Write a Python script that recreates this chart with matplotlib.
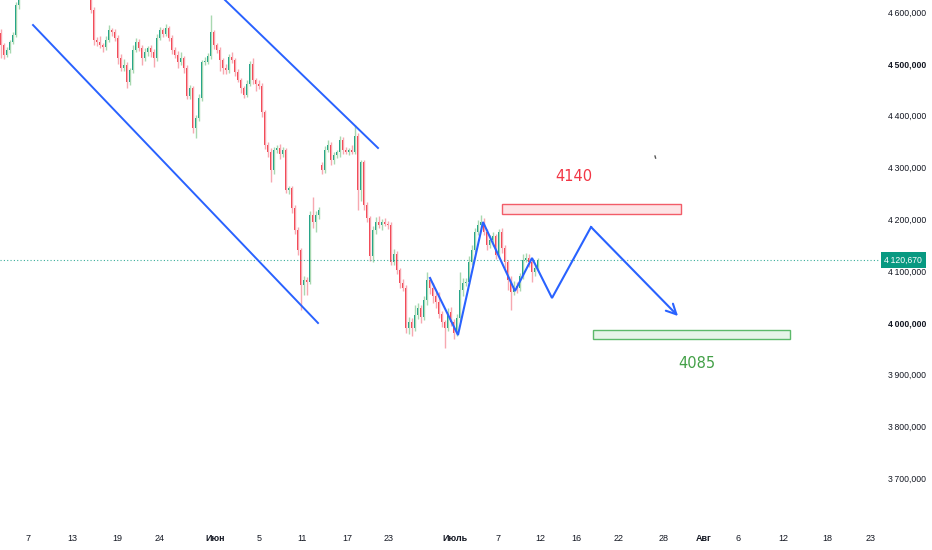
import numpy as np
import matplotlib
matplotlib.use('Agg')
import matplotlib.pyplot as plt
import matplotlib.transforms as mtransforms
from matplotlib.patches import Rectangle

# price in thousands, one bar per step
closes = [4536, 4517, 4527, 4542, 4556, 4614, 4640,
          4650, 4665, 4680, 4670, 4690, 4700, 4710, 4695, 4705, 4720, 4715, 4700,
          4690, 4705, 4695, 4680, 4690, 4675, 4665, 4680, 4670, 4655, 4645,
          4604, 4546, 4542, 4536, 4532, 4546, 4565, 4561, 4550, 4511,
          4492, 4498, 4465, 4488, 4527, 4542, 4531, 4511, 4523, 4531,
          4523, 4511, 4550, 4565, 4558, 4569, 4550, 4527, 4517, 4503,
          4511, 4492, 4438, 4453, 4376, 4395, 4434, 4503, 4503, 4515,
          4561, 4536, 4527, 4507, 4492, 4488, 4513, 4507, 4484, 4469,
          4453, 4440, 4461, 4500, 4469, 4461, 4457, 4407, 4343, 4330,
          4295, 4334, 4338, 4326, 4334, 4256, 4260, 4222, 4179, 4141,
          4073, 4083, 4079, 4208, 4195, 4208, 4218, 4295, 4334, 4343,
          4314, 4324, 4330, 4353, 4334, 4330, 4334, 4330, 4361, 4256,
          4310, 4227, 4202, 4129, 4179, 4195, 4189, 4195, 4191, 4189,
          4117, 4133, 4102, 4077, 4067, 3990, 4001, 3990, 4015, 4028,
          4011, 4044, 4083, 4067, 4052, 4040, 4017, 4001, 3990, 4021,
          4001, 3980, 4009, 4063, 4077, 4079, 4117, 4141, 4175, 4189,
          4195, 4175, 4150, 4160, 4168, 4131, 4175, 4144, 4117, 4083,
          4059, 4071, 4067, 4090, 4121, 4125, 4117, 4098, 4106, 4120.67]

upper_wick = [8, 5, 6, 4, 5, 6, 10,
              10, 10, 10, 10, 10, 10, 10, 10, 10, 10, 10, 10,
              10, 10, 10, 10, 10, 10, 10, 10, 10, 10, 10,
              8, 5, 6, 12, 4, 8, 10, 4, 6, 5,
              8, 12, 6, 4, 10, 8, 5, 6, 8, 4,
              6, 5, 8, 6, 5, 8, 4, 6, 5, 8,
              12, 4, 5, 6, 4, 6, 8, 5, 10, 6,
              33, 5, 4, 6, 5, 8, 6, 10, 5, 6,
              4, 5, 8, 6, 12, 4, 8, 5, 4, 6,
              8, 6, 5, 8, 6, 4, 5, 4, 6, 5,
              4, 8, 6, 8, 35, 8, 6, 5, 8, 10,
              6, 5, 4, 8, 5, 6, 4, 10, 21, 6,
              5, 4, 6, 5, 8, 10, 12, 6, 8, 6,
              5, 10, 6, 4, 8, 6, 10, 8, 20, 10,
              6, 8, 15, 6, 10, 8, 20, 6, 5, 8,
              10, 6, 8, 35, 10, 8, 12, 10, 8, 10,
              13, 8, 6, 10, 8, 4, 6, 8, 6, 5,
              8, 10, 8, 6, 12, 10, 8, 6, 5, 4]

lower_wick = [25, 8, 4, 6, 4, 5, 8,
              8, 8, 8, 8, 8, 8, 8, 8, 8, 8, 8, 8,
              8, 8, 8, 8, 8, 8, 8, 8, 8, 8, 8,
              6, 10, 8, 5, 10, 6, 4, 8, 5, 12,
              6, 5, 12, 6, 5, 4, 6, 14, 5, 8,
              10, 18, 5, 4, 6, 4, 6, 8, 6, 12,
              5, 10, 6, 5, 10, 20, 6, 6, 5, 4,
              6, 8, 6, 20, 12, 8, 5, 6, 8, 4,
              10, 6, 5, 4, 8, 14, 6, 10, 8, 10,
              23, 8, 6, 10, 5, 6, 8, 10, 8, 10,
              48, 20, 25, 5, 12, 20, 8, 8, 6, 5,
              10, 8, 6, 10, 8, 4, 6, 5, 5, 38,
              20, 10, 8, 10, 12, 8, 6, 10, 5, 8,
              6, 5, 8, 10, 6, 10, 12, 15, 6, 8,
              12, 6, 10, 12, 14, 12, 8, 10, 39, 6,
              8, 12, 6, 5, 12, 6, 5, 6, 4, 6,
              8, 6, 10, 6, 12, 8, 5, 10, 12, 20,
              34, 6, 10, 5, 6, 4, 10, 20, 8, 6]

first_open = 4560
gap_open = {107: 4305}

last_price = 4120.67

price_ticks = [3700, 3800, 3900, 4000, 4100, 4200, 4300, 4400, 4500, 4600]
bold_prices = [4000, 4500]
date_labels = ['7', '13', '19', '24', 'Июн', '5', '11', '17', '23', 'Июль',
               '7', '12', '16', '22', '28', 'Авг', '6', '12', '18', '23']
date_bars = [9, 23.7, 38.7, 52.7, 71.3, 86, 100.3, 115.3, 129.3, 151.3,
             165.7, 179.7, 191.7, 205.7, 220.7, 234.3, 245.7, 260.7, 275.3, 289.7]
month_labels = ['Июн', 'Июль', 'Авг']

# drawings (bar index, price)
channel_low = ([10.67, 105.67], [4574.9, 3999.6])
channel_high = ([73.0, 125.67], [4632.5, 4337.5])
zigzag_x = [143, 152.33, 160.67, 171.33, 177, 183.67, 196.67, 225.67]
zigzag_y = [4086.5, 3976.4, 4194.6, 4061.4, 4125.1, 4047.9, 4184.9, 4013.1]
red_zone = (167, 226.67, 4210.0, 4229.3)
green_zone = (197.33, 263, 3968.7, 3986.1)

GREEN = '#089981'
RED = '#F23645'
GREEN_W = '#A8D8B0'
RED_W = '#F7A8B0'
BLUE = '#2962FF'
AXFONT = ['Liberation Sans Narrow', 'Liberation Sans', 'DejaVu Sans']

c = np.array(closes, dtype=float)
o = np.r_[first_open, c[:-1]]
for k, v in gap_open.items():
    o[k] = v
hi = np.maximum(o, c) + np.array(upper_wick)
lo = np.minimum(o, c) - np.array(lower_wick)
x = np.arange(len(c))
up = c >= o

fig = plt.figure(figsize=(9.32, 5.5), dpi=100)
ax = fig.add_axes([0, 30 / 550, 880 / 932, 520 / 550])

ax.vlines(x[up], lo[up], hi[up], color=GREEN_W, lw=1)
ax.vlines(x[~up], lo[~up], hi[~up], color=RED_W, lw=1)
body_h = np.maximum(np.abs(c - o), 2.5)
body_b = np.minimum(o, c)
ax.bar(x[up], body_h[up], bottom=body_b[up], width=0.9, color=GREEN, linewidth=0)
ax.bar(x[~up], body_h[~up], bottom=body_b[~up], width=0.9, color=RED, linewidth=0)

ax.axhline(last_price, color=GREEN, lw=0.8, ls=(0, (1, 2)), alpha=0.8)

ax.plot(*channel_low, color=BLUE, lw=1.4)
ax.plot(*channel_high, color=BLUE, lw=1.4)
ax.plot(zigzag_x[:-1], zigzag_y[:-1], color=BLUE, lw=1.5, solid_joinstyle='miter')
ax.annotate('', xy=(zigzag_x[-1], zigzag_y[-1]), xytext=(zigzag_x[-2], zigzag_y[-2]),
            arrowprops=dict(arrowstyle='->', color=BLUE, lw=1.5, mutation_scale=18,
                            shrinkA=0, shrinkB=0))

x0, x1, y0, y1 = red_zone
ax.add_patch(Rectangle((x0, y0), x1 - x0, y1 - y0, facecolor='#FDE4E6',
                       edgecolor='#F25C68', lw=1))
x0, x1, y0, y1 = green_zone
ax.add_patch(Rectangle((x0, y0), x1 - x0, y1 - y0, facecolor='#E6F4E8',
                       edgecolor='#5CB96A', lw=1))

ax.text(191, 4283.4, '4140', color=RED, fontsize=10.5, ha='center', va='center')
ax.text(232, 3920.5, '4085', color='#43A047', fontsize=10.5, ha='center', va='center')
ax.plot([218, 218.2], [4322, 4318], color='#555555', lw=1)

ax.set_xlim(-1 / 3, 293)
ax.set_ylim(3619.3, 4623.2)

for s in ax.spines.values():
    s.set_visible(False)

ax.yaxis.tick_right()
ax.set_yticks(price_ticks)
ax.set_yticklabels([f'{int(v) // 1000}\u2009{int(v) % 1000:03d},000' for v in price_ticks],
                   family=AXFONT)
ax.tick_params(axis='y', length=0, pad=6, labelsize=6.2, labelcolor='#131722')
for v, lab in zip(price_ticks, ax.get_yticklabels()):
    if v in bold_prices:
        lab.set_fontweight('bold')

ax.set_xticks(date_bars)
ax.set_xticklabels(date_labels, family=AXFONT)
ax.tick_params(axis='x', length=0, pad=10, labelsize=6.5, labelcolor='#131722')
for lab in ax.get_xticklabels():
    if lab.get_text() in month_labels:
        lab.set_fontweight('bold')

trans = mtransforms.blended_transform_factory(ax.transAxes, ax.transData)
ax.text(1.005, last_price, '4\u2009120,670', transform=trans, color='white',
        fontsize=6.2, ha='left', va='center', family=AXFONT,
        bbox=dict(boxstyle='square,pad=0.4', facecolor=GREEN, edgecolor='none'))

fig.savefig('out.png', dpi=100, facecolor='white')
